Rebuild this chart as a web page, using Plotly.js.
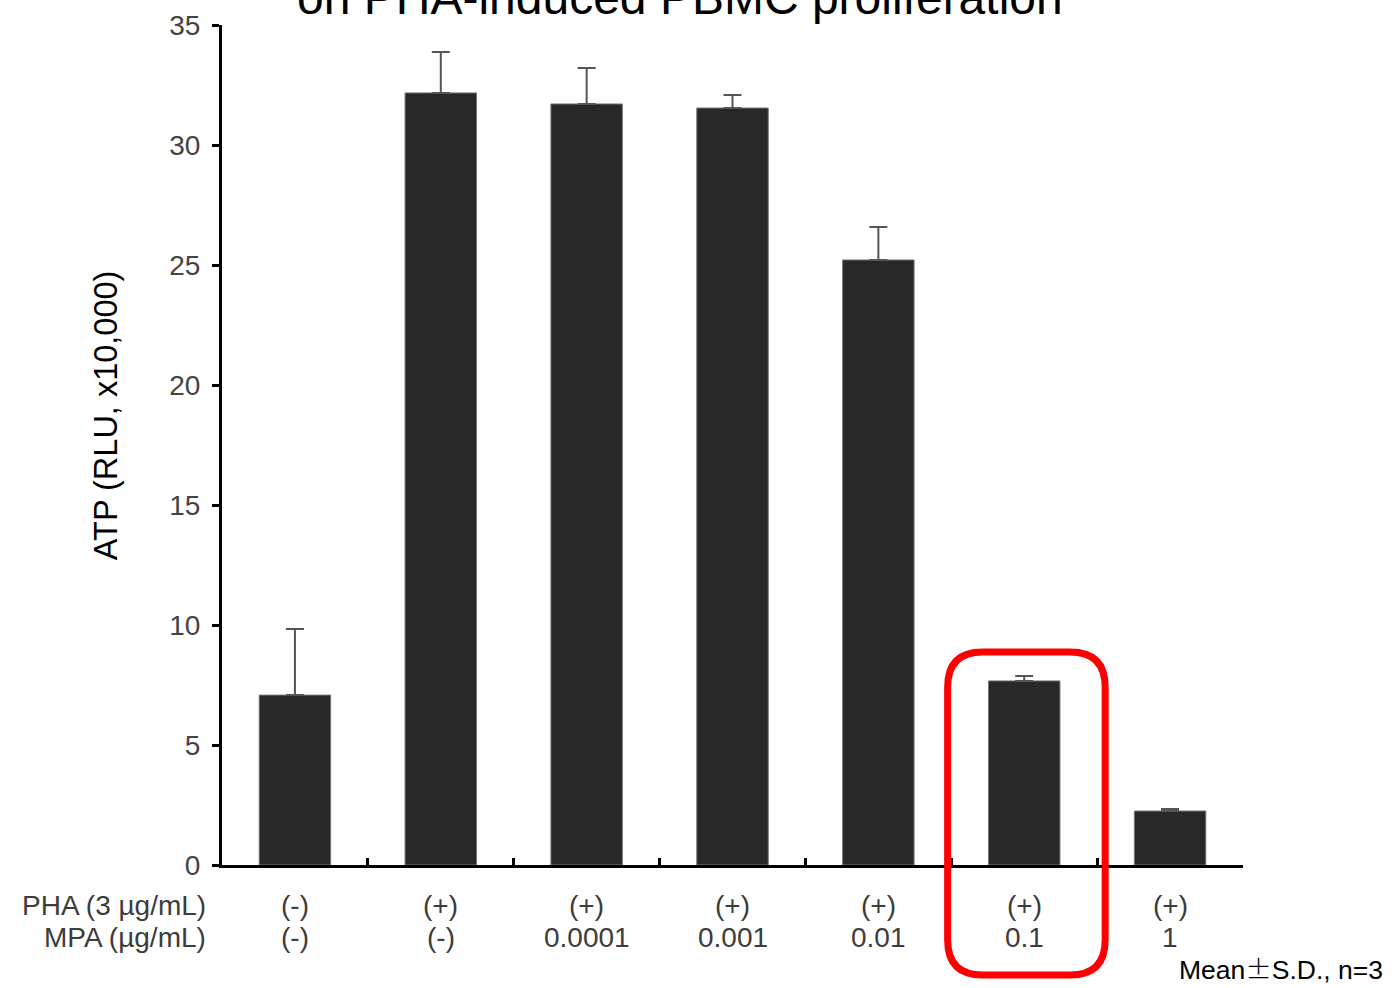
<!DOCTYPE html>
<html><head><meta charset="utf-8">
<script src="https://cdn.plot.ly/plotly-3.0.1.min.js"></script>
<style>html,body{margin:0;padding:0;background:#fff;}#chart{width:1396px;height:988px;}</style>
</head><body><div id="chart"></div>
<script>
const phaLabels = ["(-)", "(+)", "(+)", "(+)", "(+)", "(+)", "(+)"];
const mpaLabels = ["(-)", "(-)", "0.0001", "0.001", "0.01", "0.1", "1"];
const atpMean = [7.08, 32.17, 31.71, 31.54, 25.21, 7.67, 2.25];
const atpSD = [2.75, 1.70, 1.50, 0.54, 1.37, 0.20, 0.08];
const highlightIndex = 5;
const titleText = "on PHA-induced PBMC proliferation";
const yTitle = "ATP (RLU, x10,000)";
const rowLabels = ["PHA (3 µg/mL)", "MPA (µg/mL)"];
const noteParts = ["Mean", "±", "S.D., n=3"];

const FONT = "Liberation Sans, Arial, sans-serif";
const idx = atpMean.map((_, i) => i);

const trace = {
  type: "bar",
  x: idx,
  y: atpMean,
  width: 0.49,
  marker: {color: "#282828", line: {color: "#777", width: 1}},
  error_y: {type: "data", symmetric: false, array: atpSD, arrayminus: atpSD.map(() => 0),
            color: "#555", thickness: 2, width: 9},
  hoverinfo: "x+y"
};

const LBL = {family: FONT, size: 28, color: "#3c3c3c"};
const annotations = [];
idx.forEach(i => {
  annotations.push({xref: "x", yref: "paper", x: i, y: -0.0488, text: phaLabels[i], showarrow: false,
    xanchor: "center", yanchor: "middle", font: LBL});
  annotations.push({xref: "x", yref: "paper", x: i, y: -0.0869, text: mpaLabels[i], showarrow: false,
    xanchor: "center", yanchor: "middle", font: LBL});
});
annotations.push({xref: "paper", yref: "paper", x: -0.0137, y: -0.0488, text: rowLabels[0], showarrow: false,
  xanchor: "right", yanchor: "middle", font: LBL});
annotations.push({xref: "paper", yref: "paper", x: -0.0137, y: -0.0869, text: rowLabels[1], showarrow: false,
  xanchor: "right", yanchor: "middle", font: LBL});
annotations.push({xref: "paper", yref: "paper", x: 1.139, y: -0.1215,
  text: noteParts[0] + "<span style='font-family:Noto Sans CJK JP;font-weight:300'>" + noteParts[1] + "</span>" + noteParts[2],
  showarrow: false, xanchor: "right", yanchor: "middle", font: {family: FONT, size: 26.5, color: "#000"}});
annotations.push({xref: "paper", yref: "paper", x: 0.449, y: 1.0325, text: titleText, showarrow: false,
  xanchor: "center", yanchor: "middle", font: {family: FONT, size: 48, color: "#000"}});
annotations.push({xref: "paper", yref: "paper", x: -0.114, y: 0.535, text: yTitle, showarrow: false,
  textangle: -90, xanchor: "center", yanchor: "middle", font: {family: FONT, size: 32.5, color: "#000"}});

// highlight box around the highlighted category
const hx0 = highlightIndex - 0.525, hx1 = highlightIndex + 0.555;
const hy0 = -0.131, hy1 = 0.2536;
const rx = 0.24, ry = 0.0417;
const boxPath = `M ${hx0+rx},${hy1} L ${hx1-rx},${hy1} Q ${hx1},${hy1} ${hx1},${hy1-ry} L ${hx1},${hy0+ry} Q ${hx1},${hy0} ${hx1-rx},${hy0} L ${hx0+rx},${hy0} Q ${hx0},${hy0} ${hx0},${hy0+ry} L ${hx0},${hy1-ry} Q ${hx0},${hy1} ${hx0+rx},${hy1} Z`;

const layout = {
  width: 1396, height: 988,
  margin: {l: 222, r: 153, t: 25, b: 123},
  paper_bgcolor: "#fff", plot_bgcolor: "#fff",
  showlegend: false,
  font: {family: FONT},
  xaxis: {
    range: [-0.5, 6.5], showgrid: false, zeroline: false,
    showline: true, linecolor: "#000", linewidth: 3,
    tickmode: "array", tickvals: idx.map(i => i + 0.5),
    ticks: "inside", ticklen: 7, tickwidth: 3, tickcolor: "#000",
    showticklabels: false
  },
  yaxis: {
    range: [0, 35], dtick: 5, showgrid: false, zeroline: false,
    showline: true, linecolor: "#000", linewidth: 3,
    ticks: "outside", ticklen: 7, tickwidth: 3, tickcolor: "#000",
    ticklabelstandoff: 6,
    tickfont: {family: FONT, size: 28, color: "#444"}
  },
  annotations: annotations,
  shapes: [{type: "path", xref: "x", yref: "paper", path: boxPath,
            line: {color: "#ff0000", width: 7}, fillcolor: "rgba(0,0,0,0)", layer: "above"}]
};

Plotly.newPlot("chart", [trace], layout, {displayModeBar: false, staticPlot: true});
</script></body></html>
